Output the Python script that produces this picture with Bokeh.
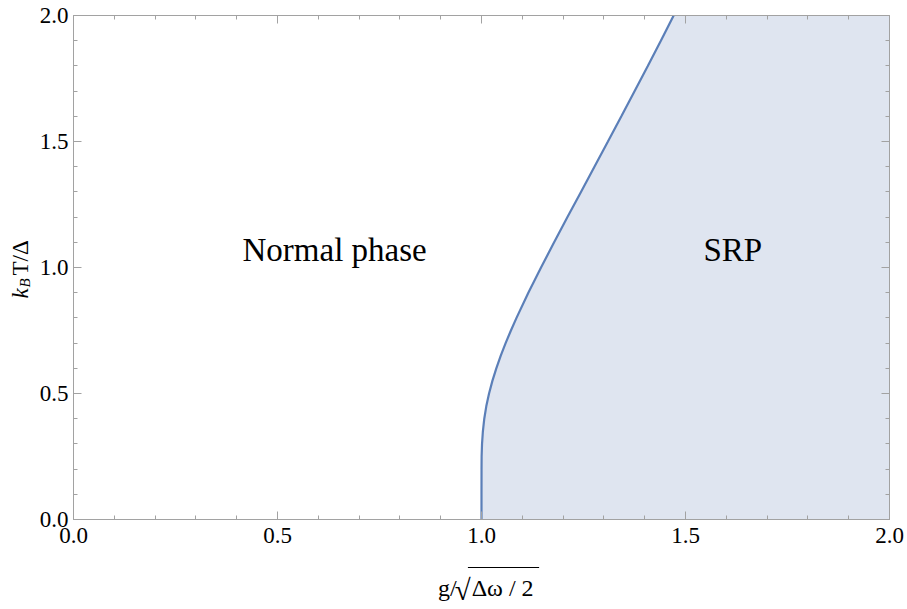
import numpy as np
from bokeh.plotting import figure
from bokeh.layouts import row, column
from bokeh.models import (Range1d, LinearAxis, SingleIntervalTicker, Label,
                          PrintfTickFormatter, CustomJSTickFormatter)
from bokeh.core.properties import value
from bokeh.embed import file_html
from bokeh.resources import INLINE

# ---- data ----
# temperature k_B T / Delta (y) and critical coupling g / sqrt(Delta*omega/2) (x)
temperature = [0.0, 0.1, 0.2, 0.25, 0.3, 0.35, 0.4, 0.45, 0.5, 0.55, 0.6, 0.65,
               0.7, 0.75, 0.8, 0.9, 1.0, 1.1, 1.2, 1.3, 1.4, 1.5, 1.6, 1.7,
               1.8, 1.9, 2.0]
coupling = [1.0, 1.0, 1.0001, 1.0003, 1.0013, 1.0034, 1.0068, 1.0118, 1.0185,
            1.0267, 1.0363, 1.0472, 1.0591, 1.0721, 1.0858, 1.1148, 1.1459,
            1.1780, 1.2107, 1.2438, 1.2768, 1.3099, 1.3428, 1.3754, 1.4076,
            1.4396, 1.4710]
x_right_edge = 2.0
x_ticks_interval = 0.5
y_ticks_interval = 0.5
region_labels = ["Normal phase", "SRP"]

FONT = "Liberation Serif"
GREY = "#a2a2a2"
LINE = "#5b7fb8"
FILL = "#dfe5f0"

LEFT_W = 36       # width of the strip holding the y-axis title
MAIN_H = 560      # height of the main plot panel
W, H = 907, 609


def blank(width, height):
    f = figure(width=width, height=height, output_backend="svg",
               toolbar_location=None, x_range=Range1d(0, width),
               y_range=Range1d(0, height), x_axis_location=None,
               y_axis_location=None, min_border=0)
    f.outline_line_color = None
    f.xgrid.visible = False
    f.ygrid.visible = False
    f.background_fill_color = "white"
    f.border_fill_color = "white"
    return f


# ---------------- main plot ----------------
p = figure(width=W - LEFT_W, height=MAIN_H, output_backend="svg",
           toolbar_location=None,
           x_range=Range1d(0, 2), y_range=Range1d(0, 2),
           x_axis_location=None, y_axis_location=None,
           min_border_left=72 - LEFT_W, min_border_right=18, min_border_top=15,
           min_border_bottom=MAIN_H - 519)
p.outline_line_color = None
p.xgrid.visible = False
p.ygrid.visible = False
p.background_fill_color = "white"
p.border_fill_color = "white"

# filled super-radiant region
p.harea(x1=coupling, x2=[x_right_edge] * len(coupling), y=temperature,
        fill_color=FILL, fill_alpha=1.0)
p.line(coupling, temperature, line_color=LINE, line_width=2.2)


def make_axis(interval, show_labels):
    ax = LinearAxis(ticker=SingleIntervalTicker(interval=interval, num_minor_ticks=5))
    ax.axis_line_color = GREY
    ax.major_tick_line_color = GREY
    ax.minor_tick_line_color = GREY
    ax.major_tick_in = 8
    ax.major_tick_out = 0
    ax.minor_tick_in = 4
    ax.minor_tick_out = 0
    if show_labels:
        ax.formatter = PrintfTickFormatter(format="%.1f")
        ax.major_label_text_font = FONT
        ax.major_label_text_font_size = "23px"
        ax.major_label_text_color = "black"
    else:
        ax.formatter = CustomJSTickFormatter(code="return ''")
        ax.major_label_standoff = 0
    return ax


bx = make_axis(x_ticks_interval, True)
bx.major_label_standoff = 8
ly = make_axis(y_ticks_interval, True)
ly.major_label_standoff = 5
tx = make_axis(x_ticks_interval, False)
ry = make_axis(y_ticks_interval, False)
p.add_layout(bx, "below")
p.add_layout(ly, "left")
p.add_layout(tx, "above")
p.add_layout(ry, "right")

# region labels
p.add_layout(Label(x=0.64, y=1.07, text=region_labels[0], text_font=FONT,
                   text_font_size="33px", text_align="center",
                   text_baseline="middle", text_color="black"))
p.add_layout(Label(x=1.616, y=1.07, text=region_labels[1], text_font=FONT,
                   text_font_size="33px", text_align="center",
                   text_baseline="middle", text_color="black"))

# ---------------- y-axis title strip (pixel coordinates) ----------------
yl = blank(LEFT_W, H)
ang = np.pi / 2
yl.text(x=[20], y=[H - 298], text=["k"], angle=ang, text_font=value(FONT),
        text_font_style="italic", text_font_size="23px", text_align="left",
        text_baseline="alphabetic", text_color="black")
yl.text(x=[24], y=[H - 287], text=["B"], angle=ang, text_font=value(FONT),
        text_font_style="italic", text_font_size="15px", text_align="left",
        text_baseline="alphabetic", text_color="black")
yl.text(x=[20], y=[H - 275], text=["T/Δ"], angle=ang, text_font=value(FONT),
        text_font_size="23px", text_align="left", text_baseline="alphabetic",
        text_color="black")

# ---------------- x-axis title strip (pixel coordinates) ----------------
XH = H - MAIN_H
xl = blank(W - LEFT_W, XH)
xl.text(x=[425 - LEFT_W], y=[H - 587], text=["g/"], text_font=value(FONT),
        text_font_size="24px", text_align="left", text_baseline="alphabetic",
        text_color="black")
xl.text(x=[443 - LEFT_W], y=[H - 589], text=["√"], text_font=value(FONT),
        text_font_size="29px", text_align="left", text_baseline="alphabetic",
        text_color="black")
xl.text(x=[461 - LEFT_W], y=[H - 587], text=["Δω / 2"], text_font=value(FONT),
        text_font_size="24px", text_align="left", text_baseline="alphabetic",
        text_color="black")
xl.line(x=[457 - LEFT_W, 533 - LEFT_W], y=[H - 567, H - 567],
        line_color="black", line_width=1.2)

layout = row(yl, column(p, xl))
open("out.html", "w").write(file_html(layout, INLINE))
